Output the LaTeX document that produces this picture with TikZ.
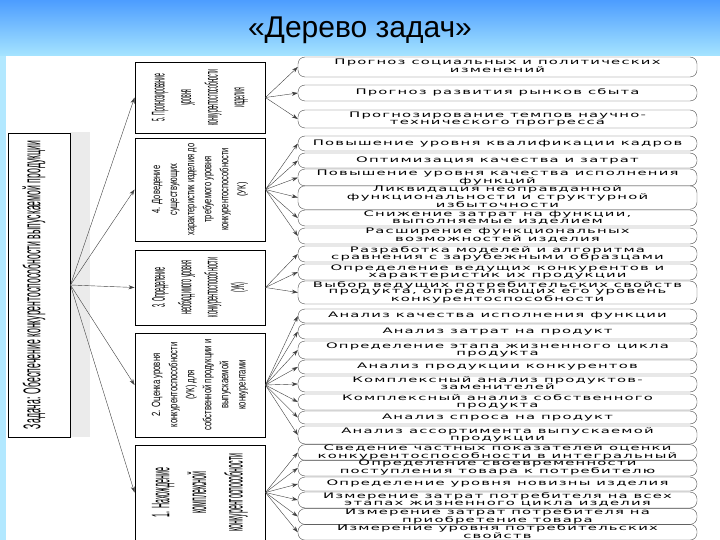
\documentclass[tikz,border=0pt]{standalone}
\usepackage{fontspec}
\setmainfont{Liberation Sans}
\newfontfamily\leaffont[LetterSpace=8]{DejaVu Sans}
\usetikzlibrary{arrows.meta}
\begin{document}
\begin{tikzpicture}[x=1pt,y=-1pt,
  leaf/.style={draw=black!70,rounded corners=7pt,minimum width=399pt,inner sep=0pt,align=center,font=\leaffont\fontsize{7.6}{7.4}\selectfont},
  catbox/.style={draw,line width=0.9pt,fill=white,inner sep=0pt},
  arr/.style={-{Stealth[length=6pt,width=4pt]},black!75,line width=0.4pt}]
\useasboundingbox (0,0) rectangle (720,540);
\shade[top color=blue!55!cyan!70,bottom color=blue!30!cyan!35] (0,0) rectangle (720,56);
\fill[blue!30!cyan!30] (0,56) rectangle (6,540);
\fill[white] (6,56) rectangle (720,540);
\node (title) at (360,30) {\fontsize{30}{34}\selectfont «Дерево задач»};
% root
\fill[black!8] (70,132) rectangle (90,437);
\node[catbox,minimum width=62pt,minimum height=304pt] (root) at (39,285) {};
\node[rotate=90] (roottext) at (34,285) {\resizebox{288pt}{18pt}{Задача: Обеспечение конкурентоспособности выпускаемой продукции}};
% categories
\newcommand\catnode[5]{% name, top, bottom, text, width
  \node[catbox,minimum width=130pt,minimum height={(#3-#2)*1pt}] (#1) at (200,{(#2+#3)/2}) {};
  \node[rotate=90,inner sep=0pt] (#1t) at (200,{(#2+#3)/2}) {\resizebox*{#5}{96pt}{\parbox{220pt}{\centering\fontsize{18}{26}\selectfont #4}}};}
\catnode{c5}{62}{133}{5. Прогнозирование\\ уровня\\ конкурентоспособности\\ изделия}{62pt}
\catnode{c4}{138}{241}{4. Доведение существующих\\ характеристик изделия до\\ требуемого уровня\\ конкурентоспособности (УК)}{92pt}
\catnode{c3}{250}{325}{3. Определение\\ необходимого уровня\\ конкурентоспособности\\ (УК)}{66pt}
\catnode{c2}{333}{437}{2. Оценка уровня\\ конкурентоспособности (УК) для\\ собственной продукции и\\ выпускаемой конкурентами}{94pt}
\catnode{c1}{445}{540}{1. Нахождение комплексной\\ конкурентоспособности}{86pt}
\foreach \c in {c5,c4,c3,c2,c1} \draw[arr] (root.east) -- (\c.west);
% leaves
\newcommand\leafnode[4]{% name, top, bottom, text
  \node[leaf,minimum height={(#3-#2)*1pt}] (#1) at (497.5,{(#2+#3)/2}) {\scalebox{1.95}[1]{\begin{tabular}{@{}c@{}}#4\end{tabular}}};}
\renewcommand\arraystretch{0.9}
\leafnode{l1}{57}{77}{Прогноз социальных и политических\\ изменений}
\leafnode{l2}{85}{101}{Прогноз развития рынков сбыта}
\leafnode{l3}{110}{128}{Прогнозирование темпов научно-\\ технического прогресса}
\leafnode{l4}{136}{151}{Повышение уровня квалификации кадров}
\leafnode{l5}{153}{168}{Оптимизация качества и затрат}
\leafnode{l6}{169}{186}{Повышение уровня качества исполнения\\ функций}
\leafnode{l7}{187}{208}{Ликвидация неоправданной\\ функциональности и структурной\\ избыточности}
\leafnode{l8}{210}{226}{Снижение затрат на функции,\\ выполняемые изделием}
\leafnode{l9}{228}{244}{Расширение функциональных\\ возможностей изделия}
\leafnode{l10}{246}{262}{Разработка моделей и алгоритма\\ сравнения с зарубежными образцами}
\leafnode{l11}{264}{280}{Определение ведущих конкурентов и\\ характеристик их продукции}
\leafnode{l12}{281}{304}{Выбор ведущих потребительских свойств\\ продукта, определяющих его уровень\\ конкурентоспособности}
\leafnode{l13}{309}{323}{Анализ качества исполнения функции}
\leafnode{l14}{324}{339}{Анализ затрат на продукт}
\leafnode{l15}{341}{359}{Определение этапа жизненного цикла\\ продукта}
\leafnode{l16}{360}{374}{Анализ продукции конкурентов}
\leafnode{l17}{376}{392}{Комплексный анализ продуктов-\\ заменителей}
\leafnode{l18}{394}{410}{Комплексный анализ собственного\\ продукта}
\leafnode{l19}{411}{424}{Анализ спроса на продукт}
\leafnode{l20}{426}{444}{Анализ ассортимента выпускаемой\\ продукции}
\leafnode{l21}{446}{459}{Сведение частных показателей оценки\\ конкурентоспособности в интегральный}
\leafnode{l22}{460}{476}{Определение своевременности\\ поступления товара к потребителю}
\leafnode{l23}{477}{491}{Определение уровня новизны изделия}
\leafnode{l24}{492}{508}{Измерение затрат потребителя на всех\\ этапах жизненного цикла изделия}
\leafnode{l25}{509}{524}{Измерение затрат потребителя на\\ приобретение товара}
\leafnode{l26}{525}{539.5}{Измерение уровня потребительских\\ свойств}
\foreach \l in {1,2,3} \draw[arr] (c5.east) -- (l\l.west);
\foreach \l in {4,...,9} \draw[arr] (c4.east) -- (l\l.west);
\foreach \l in {10,11,12} \draw[arr] (c3.east) -- (l\l.west);
\foreach \l in {13,...,20} \draw[arr] (c2.east) -- (l\l.west);
\foreach \l in {21,...,26} \draw[arr] (c1.east) -- (l\l.west);
\end{tikzpicture}
\end{document}
